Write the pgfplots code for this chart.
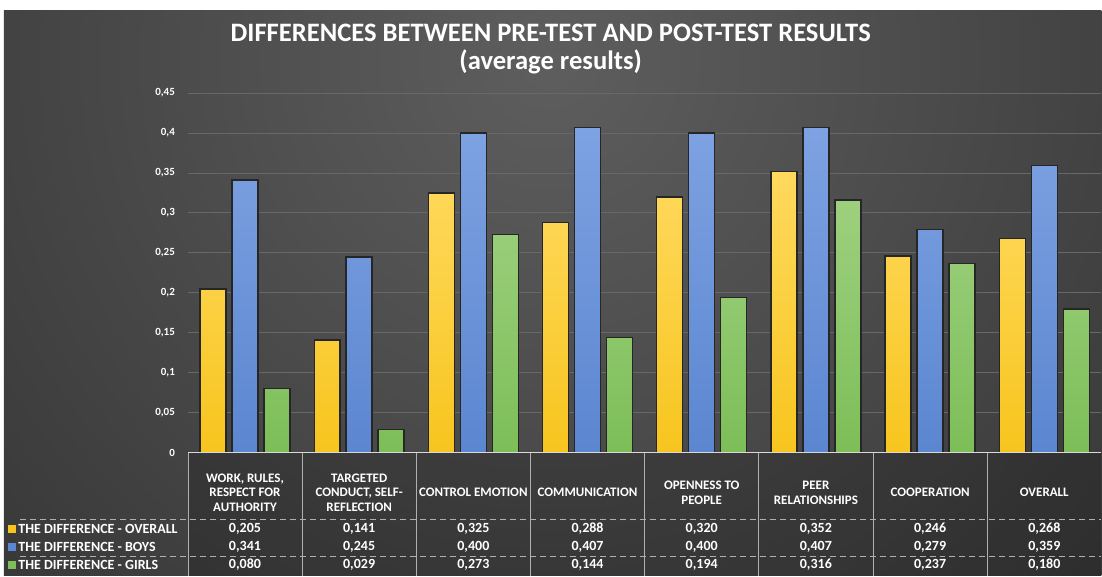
\documentclass[border=0pt]{standalone}
\usepackage{pgfplots}
\pgfplotsset{compat=1.18}
\usepackage{fontspec}
\setmainfont{Carlito}
\definecolor{bgdark}{HTML}{262626}
\definecolor{bglight}{HTML}{5E5E5E}
\definecolor{yelT}{HTML}{FFD95E}
\definecolor{yelB}{HTML}{F7C51E}
\definecolor{bluT}{HTML}{7EA2E2}
\definecolor{bluB}{HTML}{5B86D0}
\definecolor{grnT}{HTML}{9DD07E}
\definecolor{grnB}{HTML}{7DBE58}
\definecolor{gridc}{HTML}{686868}
\definecolor{tline}{HTML}{B0B0B0}
\begin{document}
\begin{tikzpicture}
% background
\fill[white] (0,0) rectangle (551pt,-288pt);
\begin{scope}
\clip (2pt,-5.5pt) rectangle (551pt,-288pt);
\fill[bgdark] (2pt,-5.5pt) rectangle (551pt,-288pt);
\shade[inner color=bglight, outer color=bgdark] (275pt,-30pt) circle (560pt);
\fill[black,opacity=0.18] (94pt,-226.5pt) rectangle (551pt,-288pt);
\end{scope}
% title
\node[white,font=\bfseries\fontsize{13.3}{15}\selectfont] at (275.5pt,-16.5pt) {DIFFERENCES BETWEEN PRE-TEST AND POST-TEST RESULTS};
\node[white,font=\bfseries\fontsize{13.3}{15}\selectfont] at (275.5pt,-31pt) {(average results)};

\begin{axis}[
  at={(94pt,-226.5pt)}, anchor=south west,
  scale only axis, width=457pt, height=180pt,
  xmin=-0.5, xmax=7.5, ymin=0, ymax=0.45,
  ybar=3pt, bar width=13pt,
  axis line style={draw=none},
  ytick={0,0.05,0.1,0.15,0.2,0.25,0.3,0.35,0.4,0.45},
  yticklabels={0,{0,05},{0,1},{0,15},{0,2},{0,25},{0,3},{0,35},{0,4},{0,45}},
  yticklabel style={white,font=\bfseries\fontsize{5.5}{6}\selectfont, xshift=-3pt},
  major tick length=0pt,
  ymajorgrids, grid style={gridc, line width=0.4pt},
  xtick={0,...,7},
  xticklabels={{WORK, RULES,\\RESPECT FOR\\AUTHORITY},{TARGETED\\CONDUCT, SELF-\\REFLECTION},{CONTROL EMOTION},{COMMUNICATION},{OPENNESS TO\\PEOPLE},{PEER\\RELATIONSHIPS},{COOPERATION},{OVERALL}},
  xticklabel style={white,font=\bfseries\fontsize{6.5}{7.3}\selectfont, align=center, anchor=center, yshift=-20pt},
  clip=false,
]
\addplot[draw=black!85, line width=0.7pt, top color=yelT, bottom color=yelB] coordinates {(0,0.205)(1,0.141)(2,0.325)(3,0.288)(4,0.320)(5,0.352)(6,0.246)(7,0.268)};
\addplot[draw=black!85, line width=0.7pt, top color=bluT, bottom color=bluB] coordinates {(0,0.341)(1,0.245)(2,0.400)(3,0.407)(4,0.400)(5,0.407)(6,0.279)(7,0.359)};
\addplot[draw=black!85, line width=0.7pt, top color=grnT, bottom color=grnB] coordinates {(0,0.080)(1,0.029)(2,0.273)(3,0.144)(4,0.194)(5,0.316)(6,0.237)(7,0.180)};
\end{axis}

% table lines
\draw[white!85!black, line width=0.6pt] (94pt,-226.5pt) -- (551pt,-226.5pt);
\foreach \x in {94,151.1,208.2,265.4,322.5,379.6,436.7,493.9}{
  \draw[tline, line width=0.4pt] (\x pt,-226.5pt) -- (\x pt,-288pt);
}
\draw[tline, line width=0.4pt, densely dashed] (10pt,-260pt) -- (551pt,-260pt);
\draw[tline, line width=0.4pt, densely dashed] (10pt,-278.5pt) -- (551pt,-278.5pt);

% row labels
\fill[yelB] (4pt,-262.5pt) rectangle (8pt,-266.5pt);
\fill[bluB] (4pt,-271.5pt) rectangle (8pt,-275.5pt);
\fill[grnB] (4pt,-280.5pt) rectangle (8pt,-284.5pt);
\node[white,anchor=west,font=\bfseries\fontsize{7}{8}\selectfont,inner sep=0pt] at (9pt,-264.5pt) {THE DIFFERENCE - OVERALL};
\node[white,anchor=west,font=\bfseries\fontsize{7}{8}\selectfont,inner sep=0pt] at (9pt,-273.5pt) {THE DIFFERENCE - BOYS};
\node[white,anchor=west,font=\bfseries\fontsize{7}{8}\selectfont,inner sep=0pt] at (9pt,-282.5pt) {THE DIFFERENCE - GIRLS};

% values
\foreach \x/\a/\b/\c in {
  122.55/{0,205}/{0,341}/{0,080},
  179.65/{0,141}/{0,245}/{0,029},
  236.8/{0,325}/{0,400}/{0,273},
  293.95/{0,288}/{0,407}/{0,144},
  351.05/{0,320}/{0,400}/{0,194},
  408.15/{0,352}/{0,407}/{0,316},
  465.3/{0,246}/{0,279}/{0,237},
  522.45/{0,268}/{0,359}/{0,180}}{
  \node[white,font=\bfseries\fontsize{7}{8}\selectfont,inner sep=0pt] at (\x pt,-264.5pt) {\a};
  \node[white,font=\bfseries\fontsize{7}{8}\selectfont,inner sep=0pt] at (\x pt,-273.5pt) {\b};
  \node[white,font=\bfseries\fontsize{7}{8}\selectfont,inner sep=0pt] at (\x pt,-282.5pt) {\c};
}
\end{tikzpicture}
\end{document}
